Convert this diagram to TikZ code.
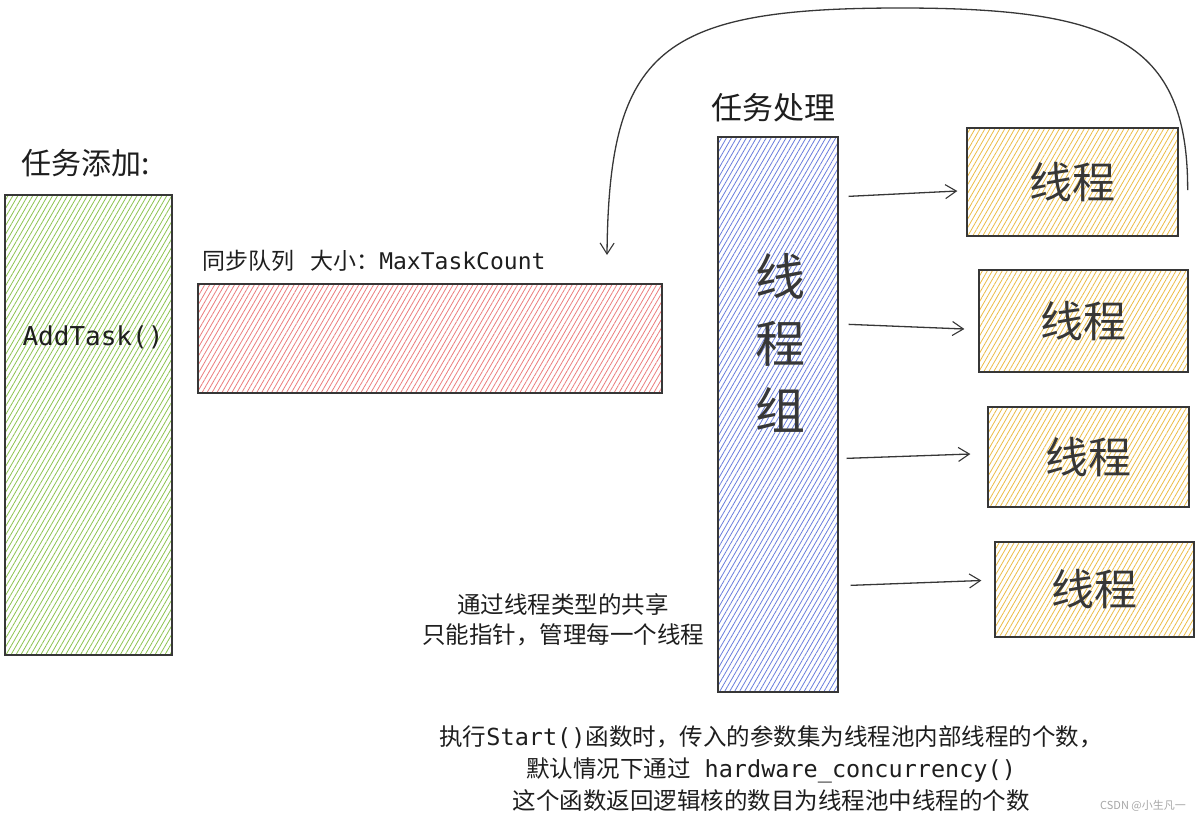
\documentclass[tikz,border=0pt]{standalone}
\usepackage{fontspec}
\setmainfont{Noto Sans CJK SC}
\setmonofont{DejaVu Sans Mono}
\usetikzlibrary{arrows.meta,patterns.meta,calc}
\definecolor{edge}{RGB}{55,55,55}
\definecolor{txt}{RGB}{30,30,30}
\definecolor{hgreen}{RGB}{140,195,80}
\definecolor{hred}{RGB}{235,125,125}
\definecolor{hblue}{RGB}{105,125,220}
\definecolor{hyellow}{RGB}{235,188,70}
\tikzset{
  box/.style={draw=edge, line width=1.3pt, inner sep=0pt},
  hatch/.style={pattern={Lines[angle=60,distance=4.3pt,line width=0.8pt]}, pattern color=#1},
  arr/.style={draw=edge, line width=1.3pt, -{Straight Barb[length=11pt,width=14pt,line width=1.1pt]}},
  lbl/.style={text=txt, inner sep=0pt, align=center},
}
\begin{document}
\begin{tikzpicture}[x=1pt,y=-1pt]
\useasboundingbox (0,0) rectangle (1200,820);
% left: task adding
\node[lbl, font=\fontsize{30}{36}\selectfont] (t1) at (86,163) {任务添加:};
\node[box, hatch=hgreen, minimum width=167pt, minimum height=460pt] (add) at (88.5,425) {};
\node[lbl, font=\ttfamily\fontsize{26}{30}\selectfont] (addtxt) at (93,337) {AddTask()};
% queue
\node[lbl, anchor=west, font=\fontsize{23}{28}\selectfont] (qlbl) at (202,261) {同步队列\hspace{0.7em}大小：\texttt{MaxTaskCount}};
\node[box, hatch=hred, minimum width=464pt, minimum height=109pt] (queue) at (430,338.5) {};
% thread group
\node[lbl, font=\fontsize{31}{36}\selectfont] (t2) at (773,108) {任务处理};
\node[box, hatch=hblue, minimum width=120pt, minimum height=555pt] (grp) at (778,414.5) {};
\node[lbl, text=edge, font=\fontsize{50}{67}\selectfont] (grptxt) at (780,343) {线\\程\\组};
% threads
\node[box, hatch=hyellow, minimum width=211pt, minimum height=108pt, text=edge, font=\fontsize{43}{50}\selectfont] (y1) at (1072.5,182) {线程};
\node[box, hatch=hyellow, minimum width=209pt, minimum height=102pt, text=edge, font=\fontsize{43}{50}\selectfont] (y2) at (1083.5,321) {线程};
\node[box, hatch=hyellow, minimum width=201pt, minimum height=100pt, text=edge, font=\fontsize{43}{50}\selectfont] (y3) at (1088.5,457) {线程};
\node[box, hatch=hyellow, minimum width=199pt, minimum height=95pt, text=edge, font=\fontsize{43}{50}\selectfont] (y4) at (1094.5,589.5) {线程};
% arrows
\draw[arr] ($(grp.north east)+(10,60)$) -- ($(y1.west)+(-9,9)$);
\draw[arr] ($(grp.north east)+(10,188)$) -- ($(y2.west)+(-14,8)$);
\draw[arr] ($(grp.north east)+(8,322)$) -- ($(y3.west)+(-17,-3)$);
\draw[arr] ($(grp.north east)+(12,449)$) -- ($(y4.west)+(-13,-9)$);
% loop back arrow
\coordinate (loopstart) at ($(y1.east)+(9,8)$);
\coordinate (loopend) at (607,255);
\draw[arr] (loopstart) .. controls (1188,40) and (1110,8) .. (900,8)
  .. controls (660,8) and (609,50) .. (loopend);
% notes
\node[lbl, font=\fontsize{23.5}{30}\selectfont] (note) at (563,620) {通过线程类型的共享\\只能指针，管理每一个线程};
\node[lbl, font=\fontsize{23.5}{32}\selectfont] (bottom) at (771,769) {执行\texttt{Start()}函数时，传入的参数集为线程池内部线程的个数，\\默认情况下通过\texttt{ hardware\_concurrency()}\\这个函数返回逻辑核的数目为线程池中线程的个数};
\node[lbl, text=gray!70, font=\fontsize{11}{13}\selectfont] (wm) at (1143,806) {CSDN @小生凡一};
\end{tikzpicture}
\end{document}
